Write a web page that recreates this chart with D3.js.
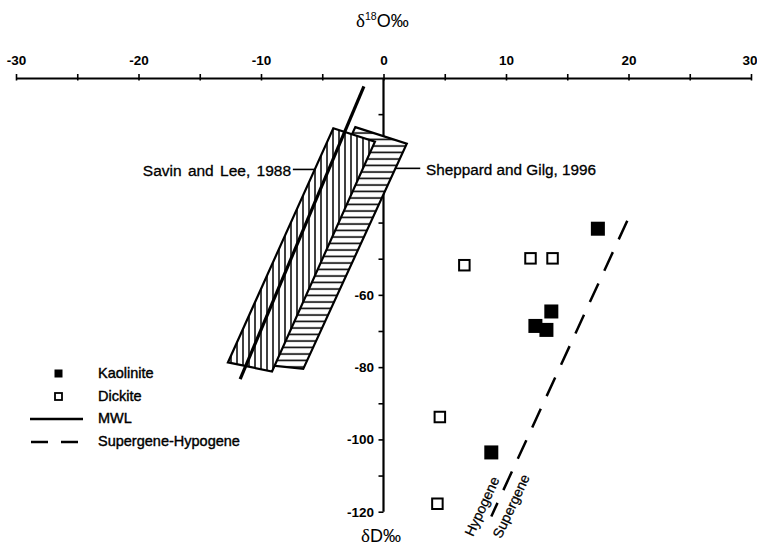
<!DOCTYPE html>
<html><head><meta charset="utf-8">
<script src="https://cdn.jsdelivr.net/npm/d3@7/dist/d3.min.js"></script>
<style>
body{margin:0;background:#fff;}
svg{display:block;font-family:"Liberation Sans",Arial,sans-serif;}
</style></head>
<body>
<svg id="chart" width="757" height="545"></svg>
<script>
// ---- data ----
const xTicks = [-30,-25,-20,-15,-10,-5,0,5,10,15,20,25,30];
const xTickLabels = [-30,-20,-10,0,10,20,30];
const yTicks = [-10,-20,-30,-40,-50,-60,-70,-80,-90,-100,-110,-120];
const yTickLabels = [-60,-80,-100,-120];

const kaoliniteO = [17.5, 13.7, 12.4, 13.3, 8.8];
const kaoliniteD = [-41.7, -64.6, -68.6, -69.7, -103.6];
const dickiteO = [6.6, 12.0, 13.8, 4.6, 4.4];
const dickiteD = [-51.8, -49.9, -49.9, -93.8, -117.8];

const mwlO = [-11.7, -1.6];
const mwlD = [-83.3, -2.3];
const shLineO = [19.9, 8.8];
const shLineD = [-39.5, -121.3];

const savinO = [-4.1, -0.7, -9.1, -12.7];
const savinD = [-13.9, -17.6, -81.2, -78.7];
const sheppardO = [-2.3, 1.9, -6.55, -11.15];
const sheppardD = [-13.6, -18.2, -80.5, -78.8];

const legendLabels = ["Kaolinite","Dickite","MWL","Supergene-Hypogene"];

// ---- scales ----
const svg = d3.select("#chart");
const x = d3.scaleLinear().domain([-30,30]).range([16,751]);
const y = d3.scaleLinear().domain([0,-120]).range([78,511.7]);

// patterns
const defs = svg.append("defs");
const pv = defs.append("pattern").attr("id","vhatch").attr("patternUnits","userSpaceOnUse")
  .attr("width",6).attr("height",6);
pv.append("rect").attr("width",6).attr("height",6).attr("fill","#fff");
pv.append("line").attr("x1",3).attr("x2",3).attr("y1",0).attr("y2",6).attr("stroke","#000").attr("stroke-width",1.5);
const ph = defs.append("pattern").attr("id","hhatch").attr("patternUnits","userSpaceOnUse")
  .attr("width",6).attr("height",6.5);
ph.append("rect").attr("width",6).attr("height",6.5).attr("fill","#fff");
ph.append("line").attr("x1",0).attr("x2",6).attr("y1",3).attr("y2",3).attr("stroke","#000").attr("stroke-width",1.6);

// ---- axes ----
const xAxis = d3.axisTop(x).tickValues(xTicks).tickSize(4).tickSizeOuter(0).tickPadding(9)
  .tickFormat(d => xTickLabels.includes(d) ? (d<0 ? "-"+Math.abs(d) : String(d)) : "");
const gx = svg.append("g").attr("transform",`translate(0,${y(0)})`).call(xAxis);
gx.select(".domain").attr("stroke-width",2);
gx.selectAll(".tick line").attr("y2",-4).attr("y1",2.5).attr("stroke-width",1.6);
gx.selectAll(".tick text").attr("font-size",13.5).attr("font-weight","bold")
  .attr("font-family","Liberation Sans, Arial, sans-serif")
  .attr("text-anchor", d => d === 30 ? "end" : "middle")
  .attr("dx", d => d === 30 ? 6 : 0);

const yAxis = d3.axisLeft(y).tickValues(yTicks).tickSize(5).tickSizeOuter(0).tickPadding(4.5)
  .tickFormat(d => yTickLabels.includes(d) ? "-"+Math.abs(d) : "");
const gy = svg.append("g").attr("transform",`translate(${x(0)},0)`).call(yAxis);
gy.select(".domain").attr("stroke-width",2.2).attr("d",`M0,${y(0)}V${y(-120)}`);
gy.selectAll(".tick line").attr("stroke-width",1.6);
gy.selectAll(".tick text").attr("font-size",13.5).attr("font-weight","bold")
  .attr("font-family","Liberation Sans, Arial, sans-serif");

// axis titles
const t1 = svg.append("text").attr("x",356).attr("y",27).attr("font-size",18);
t1.append("tspan").attr("font-family","Liberation Serif, Times New Roman, serif").attr("font-size",19).text("δ");
t1.append("tspan").attr("font-size",10.5).attr("dy",-7.5).text("18");
t1.append("tspan").attr("dy",7.5).text("O‰");
const t2 = svg.append("text").attr("x",361).attr("y",542).attr("font-size",18);
t2.append("tspan").attr("font-family","Liberation Serif, Times New Roman, serif").attr("font-size",19).text("δ");
t2.append("tspan").text("D‰");

// ---- boxes ----
const poly = (os, ds) => os.map((o,i) => [x(o), y(ds[i])]);
const line = d3.line();
svg.append("path").attr("d", line(poly(sheppardO, sheppardD)) + "Z")
  .attr("fill","url(#hhatch)").attr("stroke","#000").attr("stroke-width",2.2).attr("stroke-linejoin","miter");
svg.append("path").attr("d", line(poly(savinO, savinD)) + "Z")
  .attr("fill","url(#vhatch)").attr("stroke","#000").attr("stroke-width",2.2).attr("stroke-linejoin","miter");

// MWL
svg.append("path").attr("d", line(poly(mwlO, mwlD))).attr("stroke","#000").attr("stroke-width",3.2).attr("fill","none");
// supergene-hypogene line
svg.append("path").attr("d", line(poly(shLineO, shLineD))).attr("stroke","#000").attr("stroke-width",2.5)
  .attr("fill","none").attr("stroke-dasharray","20.5,14");

// leaders + labels
svg.append("line").attr("x1",x(-7.4)).attr("x2",x(-5.6)).attr("y1",y(-25.3)).attr("y2",y(-25.3)).attr("stroke","#000").attr("stroke-width",1.6);
svg.append("line").attr("x1",x(0.95)).attr("x2",x(3.0)).attr("y1",y(-25.0)).attr("y2",y(-25.0)).attr("stroke","#000").attr("stroke-width",1.6);
svg.append("text").attr("x",291).attr("y",176).attr("text-anchor","end").attr("font-size",15.5)
  .attr("word-spacing",2).attr("stroke","#000").attr("stroke-width",0.3).text("Savin and Lee, 1988");
svg.append("text").attr("x",426).attr("y",175).attr("font-size",15.3)
  .attr("stroke","#000").attr("stroke-width",0.3).text("Sheppard and Gilg, 1996");

// Hypogene / Supergene
svg.append("text").attr("transform",`translate(${x(7.3)},${y(-127.1)}) rotate(-65)`).attr("font-size",14)
  .attr("stroke","#000").attr("stroke-width",0.25).text("Hypogene");
svg.append("text").attr("transform",`translate(${x(9.6)},${y(-127.6)}) rotate(-65)`).attr("font-size",14)
  .attr("stroke","#000").attr("stroke-width",0.25).text("Supergene");

// ---- points ----
const ks = 14, ds = 10.5;
svg.append("g").selectAll("rect").data(kaoliniteO).join("rect")
  .attr("x",(d,i)=>x(d)-ks/2).attr("y",(d,i)=>y(kaoliniteD[i])-ks/2)
  .attr("width",ks).attr("height",ks).attr("fill","#000");
svg.append("g").selectAll("rect").data(dickiteO).join("rect")
  .attr("x",(d,i)=>x(d)-ds/2).attr("y",(d,i)=>y(dickiteD[i])-ds/2)
  .attr("width",ds).attr("height",ds).attr("fill","#fff").attr("stroke","#000").attr("stroke-width",2);

// ---- legend ----
const lg = svg.append("g");
const ly = [373, 396, 418, 441];
lg.append("rect").attr("x",54.5).attr("y",ly[0]-3.5).attr("width",8).attr("height",8).attr("fill","#000");
lg.append("rect").attr("x",55).attr("y",ly[1]-3).attr("width",7).attr("height",7).attr("fill","#fff").attr("stroke","#000").attr("stroke-width",1.8);
lg.append("line").attr("x1",30).attr("x2",83).attr("y1",ly[2]+1).attr("y2",ly[2]+1).attr("stroke","#000").attr("stroke-width",2.6);
lg.append("line").attr("x1",31).attr("x2",82).attr("y1",ly[3]+1).attr("y2",ly[3]+1).attr("stroke","#000").attr("stroke-width",2.6).attr("stroke-dasharray","17,13");
lg.selectAll("text").data(legendLabels).join("text")
  .attr("x",98).attr("y",(d,i)=>ly[i]+5).attr("font-size",14.5)
  .attr("stroke","#000").attr("stroke-width",0.4).text(d=>d);
</script>
</body></html>
